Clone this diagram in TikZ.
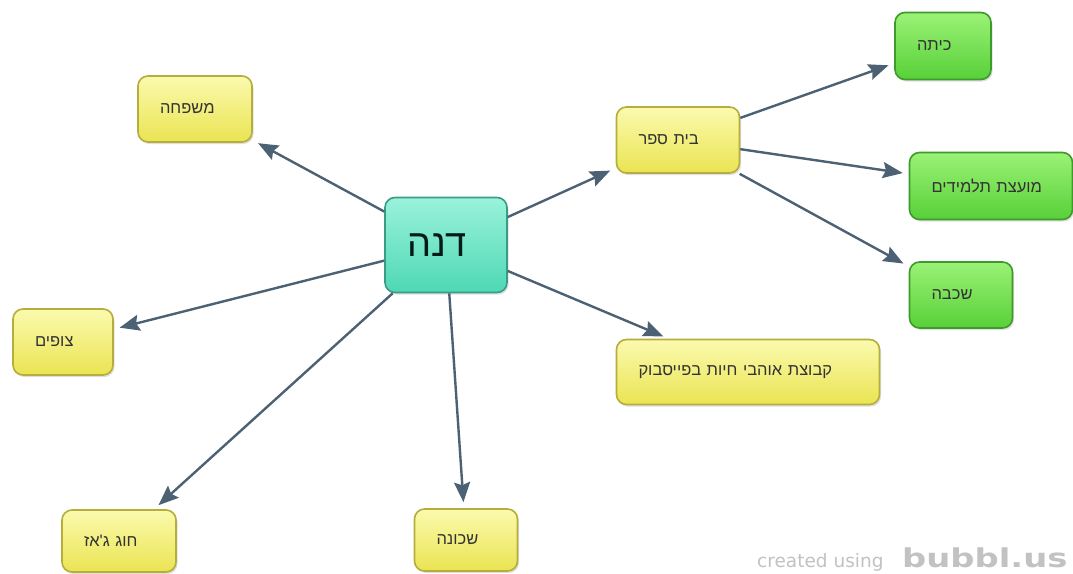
\documentclass[tikz,border=0pt]{standalone}
\usepackage{fontspec}
\setmainfont{Liberation Sans}
\newfontfamily\heb[Script=Hebrew]{Liberation Sans}
\newfontfamily\wmfont{DejaVu Sans}
\TeXXeTstate=1
\usetikzlibrary{arrows.meta,shadows}
\definecolor{ylwtop}{HTML}{FBFAAE}
\definecolor{ylwbot}{HTML}{EAE452}
\definecolor{ylwdraw}{HTML}{B5AD3C}
\definecolor{grntop}{HTML}{9AF276}
\definecolor{grnbot}{HTML}{58D038}
\definecolor{grndraw}{HTML}{3E9A2C}
\definecolor{tealtop}{HTML}{9AF2DC}
\definecolor{tealbot}{HTML}{4ED8B4}
\definecolor{tealdraw}{HTML}{3A9C86}
\definecolor{arrowc}{HTML}{4C6274}
\definecolor{wmgray}{HTML}{C2C2C2}
\tikzset{
  bubble/.style 2 args={rounded corners=10pt, line width=1.6pt,
    inner xsep=22pt, inner ysep=0pt, text width=#1pt-44pt, align=left,
    minimum height=#2pt,
    drop shadow={shadow xshift=1.5pt, shadow yshift=-2pt, opacity=0.25},
    font=\heb\fontsize{16.5}{19}\selectfont, text=black!80},
  ybox/.style 2 args={bubble={#1}{#2}, draw=ylwdraw, top color=ylwtop, bottom color=ylwbot},
  gbox/.style 2 args={bubble={#1}{#2}, draw=grndraw, top color=grntop, bottom color=grnbot},
  tbox/.style 2 args={bubble={#1}{#2}, draw=tealdraw, top color=tealtop, bottom color=tealbot,
    font=\heb\fontsize{38}{44}\selectfont, text=black!80!teal},
  link/.style={draw=arrowc, line width=2.4pt, shorten >=6pt,
    -{Stealth[length=20pt,width=16pt,inset=3pt]}}
}
\begin{document}
\begin{tikzpicture}[x=1pt,y=1pt]
\useasboundingbox[fill=white] (0,0) rectangle (1073,-573);
% nodes
\node[tbox={122}{95}] (dana) at (446,-245) {\beginR דנה\endR};
\node[ybox={114}{66}] (family) at (195,-109) {\beginR משפחה\endR};
\node[ybox={123}{66}] (school) at (678,-140) {\beginR בית ספר\endR};
\node[gbox={96}{67}] (class) at (943,-46) {\beginR כיתה\endR};
\node[gbox={163}{67}] (council) at (991,-186) {\beginR מועצת תלמידים\endR};
\node[gbox={103}{66}] (grade) at (961,-295) {\beginR שכבה\endR};
\node[ybox={263}{65}] (fb) at (748,-372) {\beginR קבוצת אוהבי חיות בפייסבוק\endR};
\node[ybox={100}{66}] (scouts) at (63,-342) {\beginR צופים\endR};
\node[ybox={114}{62}] (jazz) at (119,-541) {\beginR חוג ג'אז\endR};
\node[ybox={103}{62}] (hood) at (466,-540) {\beginR שכונה\endR};
% connectors
\draw[link] (dana) -- (family);
\draw[link] (dana) -- (school);
\draw[link] (dana) -- (scouts);
\draw[link] (dana) -- (jazz);
\draw[link] (dana) -- (hood);
\draw[link] (dana) -- (fb);
\draw[link] (school) -- (class);
\draw[link] (school) -- (council);
\draw[link] (school) -- (grade);
% watermark
\node[anchor=base west, inner sep=0pt, text=wmgray, font=\wmfont\fontsize{18.5}{22}\selectfont] (wm1) at (757,-567) {created using};
\node[anchor=base west, inner sep=0pt, text=wmgray, font=\wmfont\fontsize{26}{30}\bfseries\selectfont] (wm2) at (902,-567) {\scalebox{1.3}[1]{bubbl.us}};
\end{tikzpicture}
\end{document}
